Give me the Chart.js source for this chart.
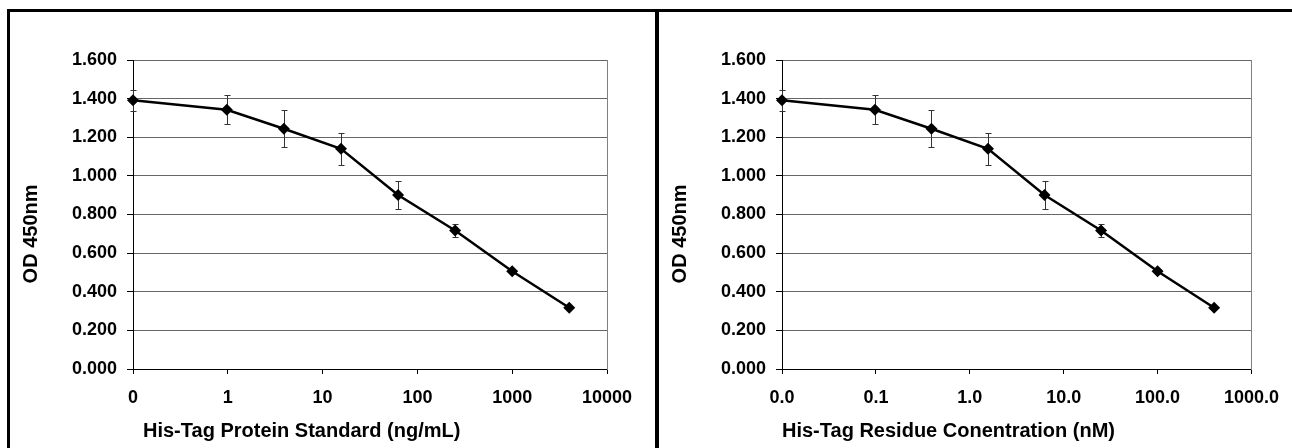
<!DOCTYPE html>
<html lang="en">
<head>
<meta charset="UTF-8">
<title>His-Tag ELISA standard curves</title>
<script src="https://cdn.jsdelivr.net/npm/chart.js@4.4.0/dist/chart.umd.min.js"></script>
<style>
    body { margin: 0; background: #fff; width: 1292px; height: 448px; overflow: hidden; position: relative; }
    .frame { position: absolute; left: 7px; top: 9px; width: 1300px; height: 460px; border-top: 3px solid #000; border-left: 3px solid #000; }
    .divider { position: absolute; left: 655px; top: 9px; width: 4px; height: 460px; background: #000; }
    #left { position: absolute; left: 10px; top: 12px; }
    #right { position: absolute; left: 659px; top: 12px; }
</style>
</head>
<body>
<div class="frame"></div>
<div class="divider"></div>
<canvas id="left" width="645" height="436"></canvas>
<canvas id="right" width="633" height="436"></canvas>

<script>
// values (first point is the blank, drawn at the axis minimum)
const proteinConc = [0.1, 0.977, 3.906, 15.63, 62.5, 250, 1000, 4000];   // ng/mL
const residueConc = [0.01, 0.0977, 0.3906, 1.563, 6.25, 25, 100, 400];   // nM
const odMean = [1.392, 1.342, 1.244, 1.140, 0.901, 0.717, 0.506, 0.317];
const odErr  = [0.055, 0.075, 0.095, 0.082, 0.073, 0.035, 0.010, 0.006];

const proteinTicks = [0.1, 1, 10, 100, 1000, 10000];
const proteinTickLabels = ['0', '1', '10', '100', '1000', '10000'];
const residueTicks = [0.01, 0.1, 1, 10, 100, 1000];
const residueTickLabels = ['0.0', '0.1', '1.0', '10.0', '100.0', '1000.0'];

const FONT = 'Arial, "Liberation Sans", Helvetica, sans-serif';

// error bars drawn under the line and markers
const errorBars = {
    id: 'errorBars',
    beforeDatasetsDraw(chart) {
        const { ctx, scales: { x, y } } = chart;
        const pts = chart.data.datasets[0].data;
        ctx.save();
        ctx.strokeStyle = '#333';
        ctx.lineWidth = 1;
        pts.forEach((p, i) => {
            const px = Math.round(x.getPixelForValue(p.x)) + 0.5;
            const top = Math.round(y.getPixelForValue(p.y + odErr[i])) + 0.5;
            const bot = Math.round(y.getPixelForValue(p.y - odErr[i])) + 0.5;
            ctx.beginPath();
            ctx.moveTo(px, top); ctx.lineTo(px, bot);
            ctx.moveTo(px - 3, top); ctx.lineTo(px + 3, top);
            ctx.moveTo(px - 3, bot); ctx.lineTo(px + 3, bot);
            ctx.stroke();
        });
        ctx.restore();
    }
};

function makeChart(id, xVals, xTicks, xLabels, xTitle, padRight) {
    return new Chart(document.getElementById(id), {
        type: 'line',
        data: {
            datasets: [{
                data: xVals.map((v, i) => ({ x: v, y: odMean[i] })),
                borderColor: '#000',
                borderWidth: 2.5,
                pointStyle: 'rectRot',
                pointRadius: 6,
                pointBackgroundColor: '#000',
                pointBorderColor: '#000',
                pointBorderWidth: 0,
                tension: 0,
                clip: false
            }]
        },
        options: {
            responsive: false,
            animation: false,
            events: [],
            layout: { padding: { top: 48, right: padRight, left: 0, bottom: 0 } },
            plugins: { legend: { display: false }, tooltip: { enabled: false } },
            scales: {
                x: {
                    type: 'logarithmic',
                    min: xTicks[0],
                    max: xTicks[xTicks.length - 1],
                    afterBuildTicks: s => { s.ticks = xTicks.map(v => ({ value: v })); },
                    afterFit: s => { s.height = 79; },
                    grid: { drawOnChartArea: false, drawTicks: true, tickLength: 5, tickColor: '#000' },
                    border: { color: '#000', width: 1 },
                    ticks: {
                        autoSkip: false, maxRotation: 0, padding: 13,
                        color: '#000',
                        font: { family: FONT, size: 18, weight: 'bold' },
                        callback: (v, i) => xLabels[i]
                    },
                    title: {
                        display: true, text: xTitle, align: 'start', color: '#000',
                        font: { family: FONT, size: 20, weight: 'bold' },
                        padding: { top: 0, bottom: 5 }
                    }
                },
                y: {
                    min: 0, max: 1.6,
                    afterFit: s => { s.width = 123; },
                    grid: { color: '#666', lineWidth: 1, tickLength: 6, tickColor: '#000' },
                    border: { color: '#000', width: 1 },
                    ticks: {
                        stepSize: 0.2, padding: 10, color: '#000',
                        font: { family: FONT, size: 18, weight: 'bold' },
                        callback: v => v.toFixed(3)
                    },
                    title: {
                        display: true, text: 'OD 450nm       ', color: '#000',
                        font: { family: FONT, size: 20, weight: 'bold' },
                        padding: { top: 9, bottom: 0 }
                    }
                },
                frame: {
                    position: 'right',
                    grid: { display: false, drawTicks: false },
                    ticks: { display: false },
                    border: { display: true, color: '#808080', width: 1 },
                    afterFit: s => { s.width = 0; }
                }
            }
        },
        plugins: [errorBars]
    });
}

makeChart('left', proteinConc, proteinTicks, proteinTickLabels, '\u2002His-Tag Protein Standard (ng/mL)', 48);
makeChart('right', residueConc, residueTicks, residueTickLabels, 'His-Tag Residue Conentration (nM)', 40);
</script>
</body>
</html>
